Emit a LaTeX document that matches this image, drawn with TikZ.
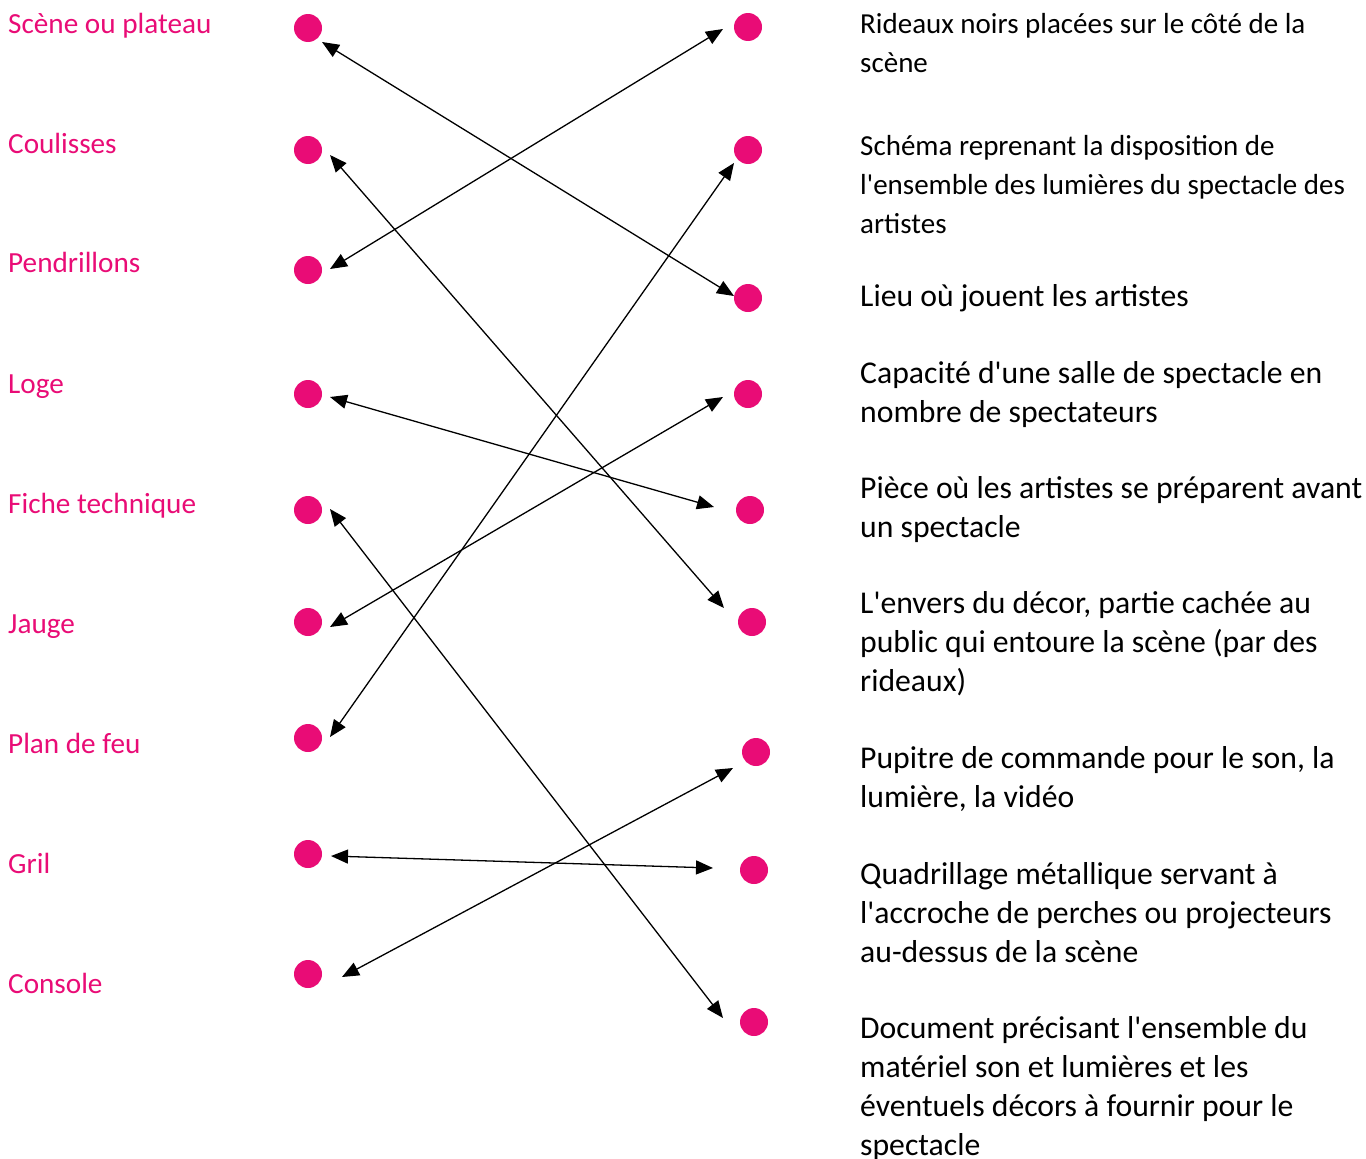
\documentclass[tikz,border=0pt]{standalone}
\usepackage{fontspec}
\setmainfont{Carlito}
\usetikzlibrary{positioning}
\usetikzlibrary{arrows.meta}
\definecolor{quizpink}{RGB}{233,12,118}

\begin{document}
\begin{tikzpicture}[x=1pt, y=-1pt,
	dot/.style={circle, fill=quizpink, minimum size=28pt, inner sep=0pt, outer sep=0pt},
	term/.style={anchor=base west, inner sep=0pt, text=quizpink, font=\fontsize{29.2}{34}\selectfont},
	meaning/.style={anchor=base west, inner sep=0pt, align=left, font=\fontsize{31.7}{39}\selectfont},
	smallmeaning/.style={meaning, font=\fontsize{29}{39}\selectfont},
	link/.style={{Triangle[length=17pt,width=14pt]}-{Triangle[length=17pt,width=14pt]}, line width=1.3pt}]
	\useasboundingbox (0,0) rectangle (1366,1159);
	
	% Left column: words
	\node [term] at (8,33) (tScene) {Scène ou plateau};
	\node [term] at (8,153) (tCoulisses) {Coulisses};
	\node [term] at (8,272) (tPendrillons) {Pendrillons};
	\node [term] at (8,393) (tLoge) {Loge};
	\node [term] at (8,513) (tFiche) {Fiche technique};
	\node [term] at (8,633) (tJauge) {Jauge};
	\node [term] at (8,753) (tPlan) {Plan de feu};
	\node [term] at (8,873) (tGril) {Gril};
	\node [term] at (8,993) (tConsole) {Console};
	
	% Left column: dots
	\node [dot] at (308,28) (lScene) {};
	\node [dot] at (308,150) (lCoulisses) {};
	\node [dot] at (308,270) (lPendrillons) {};
	\node [dot] at (308,394) (lLoge) {};
	\node [dot] at (308,510) (lFiche) {};
	\node [dot] at (308,622) (lJauge) {};
	\node [dot] at (308,738) (lPlan) {};
	\node [dot] at (308,854) (lGril) {};
	\node [dot] at (308,974) (lConsole) {};
	
	% Right column: dots
	\node [dot] at (748,27) (rRideaux) {};
	\node [dot] at (748,150) (rSchema) {};
	\node [dot] at (748,298) (rLieu) {};
	\node [dot] at (748,394) (rCapacite) {};
	\node [dot] at (750,510) (rPiece) {};
	\node [dot] at (752,622) (rEnvers) {};
	\node [dot] at (756,752) (rPupitre) {};
	\node [dot] at (754,870) (rQuadrillage) {};
	\node [dot] at (754,1022) (rDocument) {};
	
	% Right column: definitions (placed on the baseline of their last line)
	\node [smallmeaning] at (860,72) (mRideaux) {Rideaux noirs placées sur le côté de la\\scène};
	\node [smallmeaning] at (860,233) (mSchema) {Schéma reprenant la disposition de\\l\textquotesingle ensemble des lumières du spectacle des\\artistes};
	\node [meaning] at (860,306) (mLieu) {Lieu où jouent les artistes};
	\node [meaning] at (860,422) (mCapacite) {Capacité d\textquotesingle une salle de spectacle en\\nombre de spectateurs};
	\node [meaning] at (860,537) (mPiece) {Pièce où les artistes se préparent avant\\un spectacle};
	\node [meaning] at (860,691) (mEnvers) {L\textquotesingle envers du décor, partie cachée au\\public qui entoure la scène (par des\\rideaux)};
	\node [meaning] at (860,807) (mPupitre) {Pupitre de commande pour le son, la\\lumière, la vidéo};
	\node [meaning] at (860,962) (mQuadrillage) {Quadrillage métallique servant à\\l\textquotesingle accroche de perches ou projecteurs\\au-dessus de la scène};
	\node [meaning] at (860,1155) (mDocument) {Document précisant l\textquotesingle ensemble du\\matériel son et lumières et les\\éventuels décors à fournir pour le\\spectacle};
	
	% Connections
	\draw [link] ([shift={(14,14)}]lScene.center) -- ([shift={(-14,-2)}]rLieu.center);
	\draw [link] ([shift={(22,5)}]lCoulisses.center) -- ([shift={(-28,-14)}]rEnvers.center);
	\draw [link] ([shift={(22,-1)}]lPendrillons.center) -- ([shift={(-25,2)}]rRideaux.center);
	\draw [link] ([shift={(22,3)}]lLoge.center) -- ([shift={(-36,-3)}]rPiece.center);
	\draw [link] ([shift={(22,-1)}]lFiche.center) -- ([shift={(-31,-4)}]rDocument.center);
	\draw [link] ([shift={(22,5)}]lJauge.center) -- ([shift={(-25,3)}]rCapacite.center);
	\draw [link] ([shift={(22,-1)}]lPlan.center) -- ([shift={(-14,13)}]rSchema.center);
	\draw [link] ([shift={(23,2)}]lGril.center) -- ([shift={(-41,-2)}]rQuadrillage.center);
	\draw [link] ([shift={(34,3)}]lConsole.center) -- ([shift={(-23,16)}]rPupitre.center);
	
\end{tikzpicture}
\end{document}
